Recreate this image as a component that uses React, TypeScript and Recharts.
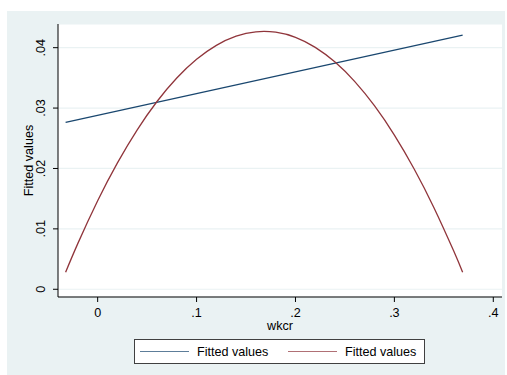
import React from "react";
import { LineChart, Line, XAxis, YAxis, CartesianGrid, Legend, Label } from "recharts";

const wkcr = [-0.0324, -0.02, 0, 0.02, 0.04, 0.06, 0.08, 0.1, 0.12, 0.14, 0.16, 0.18, 0.2, 0.22, 0.24, 0.26, 0.28, 0.3, 0.32, 0.34, 0.36, 0.369];
const fittedQuad = [0.00282, 0.0076, 0.01466, 0.02093, 0.0264, 0.03109, 0.03498, 0.03808, 0.04039, 0.04191, 0.04263, 0.04256, 0.04171, 0.04005, 0.03761, 0.03438, 0.03035, 0.02553, 0.01992, 0.01351, 0.00632, 0.00282];
const wkcrLinear = [-0.0324, 0.369];
const fittedLinear = [0.02762, 0.04208];

const xTicks = [0, 0.1, 0.2, 0.3, 0.4];
const xTickLabels = ["0", ".1", ".2", ".3", ".4"];
const yTicks = [0, 0.01, 0.02, 0.03, 0.04];
const yTickLabels = ["0", ".01", ".02", ".03", ".04"];
const seriesNames = ["Fitted values", "Fitted values"];
const xTitle = "wkcr";
const yTitle = "Fitted values";

const quadData = wkcr.map((x, i) => ({ x, y: fittedQuad[i] }));
const linData = wkcrLinear.map((x, i) => ({ x, y: fittedLinear[i] }));

const NAVY = "#1a476f";
const MAROON = "#90353b";
const FONT = "'Liberation Sans', Arial, sans-serif";
const FS = 12.6;

const XTick = (props: any) => {
  const idx = xTicks.indexOf(props.payload.value);
  return (
    <text x={props.x} y={316.7} textAnchor="middle" fontFamily={FONT} fontSize={FS} fill="#000">
      {idx >= 0 ? xTickLabels[idx] : props.payload.value}
    </text>
  );
};

const YTick = (props: any) => {
  const idx = yTicks.indexOf(props.payload.value);
  return (
    <text transform={`translate(45.3, ${props.y}) rotate(-90)`} textAnchor="middle" fontFamily={FONT} fontSize={FS} fill="#000">
      {idx >= 0 ? yTickLabels[idx] : props.payload.value}
    </text>
  );
};

const LegendBox = () => (
  <svg width={291} height={25} style={{ display: "block" }}>
    <rect x={0.5} y={0.5} width={290} height={24} fill="#fff" stroke="#404040" strokeWidth={1} />
    <line x1={6} x2={55} y1={12.5} y2={12.5} stroke={NAVY} strokeWidth={1.2} opacity={0.7} />
    <text x={63} y={17} fontFamily={FONT} fontSize={FS} fill="#000">{seriesNames[0]}</text>
    <line x1={154} x2={203} y1={12.5} y2={12.5} stroke={MAROON} strokeWidth={1.2} opacity={0.7} />
    <text x={211} y={17} fontFamily={FONT} fontSize={FS} fill="#000">{seriesNames[1]}</text>
  </svg>
);

export default function App() {
  return (
    <div style={{ position: "absolute", left: 0, top: 0, width: 507, height: 375, background: "#fff" }}>
      <div style={{ position: "absolute", left: 7, top: 11, width: 498, height: 364, background: "#eaf2f3" }} />
      <div style={{ position: "absolute", left: 0, top: 0 }}>
        <LineChart width={507} height={375} margin={{ top: 24, right: 5, bottom: 48, left: 0 }}>
          <CartesianGrid horizontal={true} vertical={false} fill="#ffffff" stroke="#eaf2f3" strokeWidth={1.2} />
          <XAxis
            dataKey="x"
            type="number"
            domain={[-0.0401, 0.4088]}
            allowDataOverflow
            ticks={xTicks}
            tick={<XTick />}
            tickSize={5}
            tickLine={{ stroke: "#000" }}
            axisLine={{ stroke: "#000", strokeWidth: 1 }}
            height={30}
            interval={0}
          >
            <Label
              content={() => (
                <text x={280} y={330} textAnchor="middle" fontFamily={FONT} fontSize={FS} fill="#000">{xTitle}</text>
              )}
            />
          </XAxis>
          <YAxis
            type="number"
            domain={[-0.00128, 0.04392]}
            allowDataOverflow
            ticks={yTicks}
            tick={<YTick />}
            tickSize={5}
            tickLine={{ stroke: "#000" }}
            axisLine={{ stroke: "#000", strokeWidth: 1 }}
            width={58}
            interval={0}
          >
            <Label
              content={() => (
                <text transform="translate(33, 160.5) rotate(-90)" textAnchor="middle" fontFamily={FONT} fontSize={FS} fill="#000">{yTitle}</text>
              )}
            />
          </YAxis>
          <Line data={linData} dataKey="y" name={seriesNames[0]} type="linear" stroke={NAVY} strokeWidth={1.3} dot={false} activeDot={false} isAnimationActive={false} />
          <Line data={quadData} dataKey="y" name={seriesNames[1]} type="natural" stroke={MAROON} strokeWidth={1.3} dot={false} activeDot={false} isAnimationActive={false} />
          <Legend
            layout="horizontal"
            verticalAlign="middle"
            align="center"
            content={() => <LegendBox />}
            wrapperStyle={{ position: "absolute", left: 134, top: 339, width: 291, height: 25 }}
          />
        </LineChart>
      </div>
    </div>
  );
}
